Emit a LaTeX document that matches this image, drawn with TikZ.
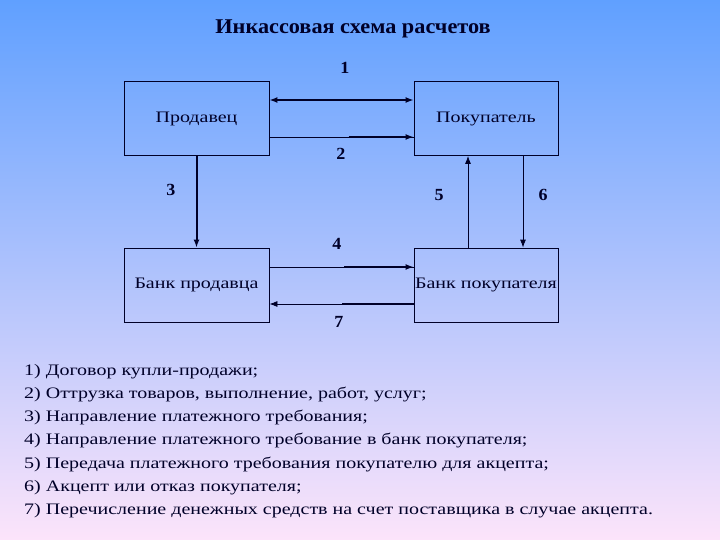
\documentclass[tikz,border=0pt]{standalone}
\usepackage{fontspec}
\setmainfont{Liberation Serif}[FakeStretch=1.25]
\newfontfamily\titlefont{Liberation Serif}[FakeStretch=1.06]
\usetikzlibrary{arrows.meta,calc}

\definecolor{bgtop}{RGB}{96,160,255}
\definecolor{bgmid}{RGB}{150,198,245}
\definecolor{bgbot}{RGB}{252,228,250}
\definecolor{ink}{RGB}{0,0,40}

\tikzset{
  party/.style={draw=ink, line width=0.8pt, minimum width=145pt,
    minimum height=74pt, inner sep=0pt, text=ink,
    font=\fontsize{16}{19}\selectfont},
  num/.style={text=ink, font=\titlefont\bfseries\fontsize{17}{20}\selectfont},
  wire/.style={ink, line width=0.8pt},
  flow/.style={ink, line width=2pt, -{Latex[length=8pt,width=6pt]}},
  thinflow/.style={ink, line width=0.8pt, -{Latex[length=8pt,width=6pt]}},
  legend/.style={anchor=base west, inner sep=0pt, text=ink,
    font=\fontsize{16}{19}\selectfont},
}

\begin{document}
\begin{tikzpicture}[x=1pt, y=-1pt]
\useasboundingbox (0,0) rectangle (720,540);
% background
\shade[top color=bgtop, middle color=bgmid, bottom color=bgbot]
  (0,0) rectangle (720,540);

\node[text=ink, font=\titlefont\bfseries\fontsize{21}{24}\selectfont,
  anchor=base] (title) at (353,34) {Инкассовая схема расчетов};

% participants
\node[party] (seller) at (196.5,118.5) {Продавец};
\node[party, minimum width=144pt] (buyer) at (486,118.5) {Покупатель};
\node[party] (sbank) at (196.5,285) {Банк продавца};
\node[party, minimum width=144pt] (bbank) at (486,285) {Банк покупателя};

% connector ends
\coordinate (a2) at ([yshift=-18.5pt]seller.east);
\coordinate (b2) at ([yshift=-18.5pt]buyer.west);
\coordinate (a4) at ([yshift=18pt]sbank.east);
\coordinate (b4) at ([yshift=18pt]bbank.west);
\coordinate (a7) at ([yshift=-19pt]bbank.west);
\coordinate (b7) at ([yshift=-19pt]sbank.east);

% 1: contract
\draw[flow, {Latex[length=8pt,width=6pt]}-{Latex[length=8pt,width=6pt]}]
  ([yshift=18.5pt]seller.east) -- ([yshift=18.5pt]buyer.west);
% 2: shipment
\draw[wire] (a2) -- (b2);
\draw[flow] ($(a2)!0.55!(b2)$) -- (b2);
% 3: payment request to seller's bank
\draw[flow] (seller.south) -- (sbank.north);
% 4: request to buyer's bank
\draw[wire] (a4) -- (b4);
\draw[flow] ($(a4)!0.52!(b4)$) -- (b4);
% 5 and 6: buyer's bank <-> buyer
\draw[thinflow] ([xshift=-18pt]bbank.north) -- ([xshift=-18pt]buyer.south);
\draw[thinflow] ([xshift=37pt]buyer.south) -- ([xshift=37pt]bbank.north);
% 7: transfer of funds
\draw[thinflow] (a7) -- (b7);
\draw[ink, line width=2pt] (a7) -- ($(a7)!0.5!(b7)$);

% step numbers
\node[num] (n1) at (345,68) {1};
\node[num] (n2) at (341,154) {2};
\node[num] (n3) at (171,190) {3};
\node[num] (n4) at (337,244) {4};
\node[num] (n5) at (439,195) {5};
\node[num] (n6) at (543,195) {6};
\node[num] (n7) at (339,322) {7};

% legend
\foreach \txt [count=\i] in {
  {Договор купли-продажи;},
  {Оттрузка товаров, выполнение, работ, услуг;},
  {Направление платежного требования;},
  {Направление платежного требование в банк покупателя;},
  {Передача платежного требования покупателю для акцепта;},
  {Акцепт или отказ покупателя;},
  {Перечисление денежных средств на счет поставщика в случае акцепта.}}
  \node[legend] (item\i) at (24,{375+23.3*(\i-1)}) {\i) \txt};
\end{tikzpicture}
\end{document}
